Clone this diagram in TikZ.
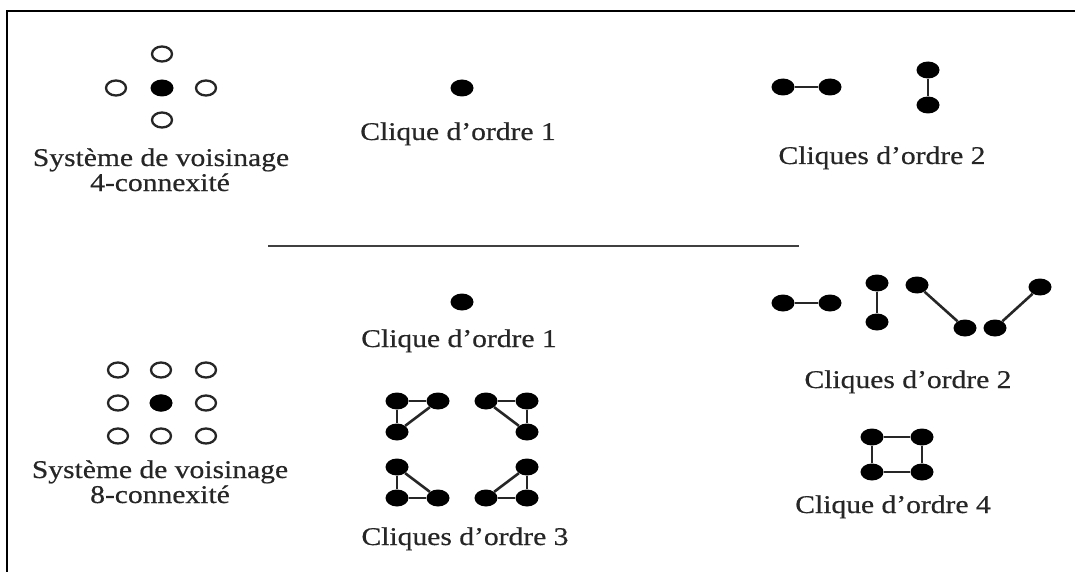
\documentclass[tikz,border=0pt]{standalone}
\usepackage{fontspec}
\setmainfont{Liberation Serif}[FakeStretch=1.16,FakeBold=0.5]
\usetikzlibrary{shapes.geometric}
\definecolor{ink}{gray}{0.15}
\tikzset{
  dot/.style={ellipse, fill=black, draw=none, minimum width=23pt, minimum height=17pt, inner sep=0pt},
  hole/.style={ellipse, fill=white, draw=black!85, line width=2.3pt, minimum width=20pt, minimum height=15pt, inner sep=0pt},
  edge/.style={draw=black!85, line width=2.6pt},
  lbl/.style={anchor=base, inner sep=0pt, text=ink, font=\fontsize{25.5}{27}\selectfont},
  rule/.style={draw=black!75, line width=2.2pt}
}
\begin{document}
\begin{tikzpicture}[x=1pt,y=-1pt]
\useasboundingbox (0,0) rectangle (1075,572);
% frame (top and left only)
\coordinate (f1) at (1075,11);
\coordinate (f2) at (7,11);
\coordinate (f3) at (7,572);
\draw[rule, black] (f1) -- (f2) -- (f3);
% separator
\coordinate (s1) at (268,246);
\coordinate (s2) at (799,246);
\draw[rule] (s1) -- (s2);

% ---- top: 4-connexity
\node[hole] (n4t) at (162,54) {};
\node[hole] (n4l) at (116,88) {};
\node[dot]  (n4c) at (162,88) {};
\node[hole] (n4r) at (206,88) {};
\node[hole] (n4b) at (162,120) {};
\node[lbl] (t4a) at (161,166) {Système de voisinage};
\node[lbl] (t4b) at (160,191) {4-connexité};

% top clique order 1
\node[dot] (c1t) at (462,88) {};
\node[lbl] (tc1t) at (458,140) {Clique d’ordre 1};

% top cliques order 2
\node[dot] (h1) at (783,87) {};
\node[dot] (h2) at (830,87) {};
\draw[edge] (h1) -- (h2);
\node[dot] (v1) at (928,70) {};
\node[dot] (v2) at (928,105) {};
\draw[edge] (v1) -- (v2);
\node[lbl] (tc2t) at (882,164) {Cliques d’ordre 2};

% ---- bottom: 8-connexity
\foreach \c/\x in {a/118,b/161,c/206}{
  \foreach \r/\y in {1/370,2/403,3/436}{
    \node[hole] (m\c\r) at (\x,\y) {};
  }
}
\node[dot] (mb2c) at (161,403) {};
\node[lbl] (t8a) at (160,478) {Système de voisinage};
\node[lbl] (t8b) at (160,503) {8-connexité};

% bottom clique order 1
\node[dot] (c1b) at (462,302) {};
\node[lbl] (tc1b) at (459,347) {Clique d’ordre 1};

% bottom cliques order 2
\node[dot] (bh1) at (783,303) {};
\node[dot] (bh2) at (830,303) {};
\draw[edge] (bh1) -- (bh2);
\node[dot] (bv1) at (877,283) {};
\node[dot] (bv2) at (877,322) {};
\draw[edge] (bv1) -- (bv2);
\node[dot] (bd1) at (917,285) {};
\node[dot] (bd2) at (965,328) {};
\draw[edge] (bd1) -- (bd2);
\node[dot] (be1) at (995,328) {};
\node[dot] (be2) at (1040,287) {};
\draw[edge] (be1) -- (be2);
\node[lbl] (tc2b) at (908,388) {Cliques d’ordre 2};

% cliques order 3
% triangle 1
\node[dot] (p1a) at (397,401) {};
\node[dot] (p1b) at (438,401) {};
\node[dot] (p1c) at (397,432) {};
\draw[edge] (p1a) -- (p1b); \draw[edge] (p1a) -- (p1c); \draw[edge] (p1c) -- (p1b);
% triangle 2
\node[dot] (p2a) at (486,401) {};
\node[dot] (p2b) at (527,401) {};
\node[dot] (p2c) at (527,432) {};
\draw[edge] (p2a) -- (p2b); \draw[edge] (p2b) -- (p2c); \draw[edge] (p2a) -- (p2c);
% triangle 3
\node[dot] (p3a) at (397,467) {};
\node[dot] (p3b) at (397,498) {};
\node[dot] (p3c) at (438,498) {};
\draw[edge] (p3a) -- (p3b); \draw[edge] (p3b) -- (p3c); \draw[edge] (p3a) -- (p3c);
% triangle 4
\node[dot] (p4a) at (527,467) {};
\node[dot] (p4b) at (486,498) {};
\node[dot] (p4c) at (527,498) {};
\draw[edge] (p4a) -- (p4c); \draw[edge] (p4b) -- (p4c); \draw[edge] (p4b) -- (p4a);
\node[lbl] (tc3) at (465,545) {Cliques d’ordre 3};

% clique order 4
\node[dot] (q1) at (872,437) {};
\node[dot] (q2) at (922,437) {};
\node[dot] (q3) at (922,472) {};
\node[dot] (q4) at (872,472) {};
\draw[edge] (q1) -- (q2); \draw[edge] (q2) -- (q3); \draw[edge] (q3) -- (q4); \draw[edge] (q4) -- (q1);
\node[lbl] (tc4) at (893,513) {Clique d’ordre 4};
\end{tikzpicture}
\end{document}
